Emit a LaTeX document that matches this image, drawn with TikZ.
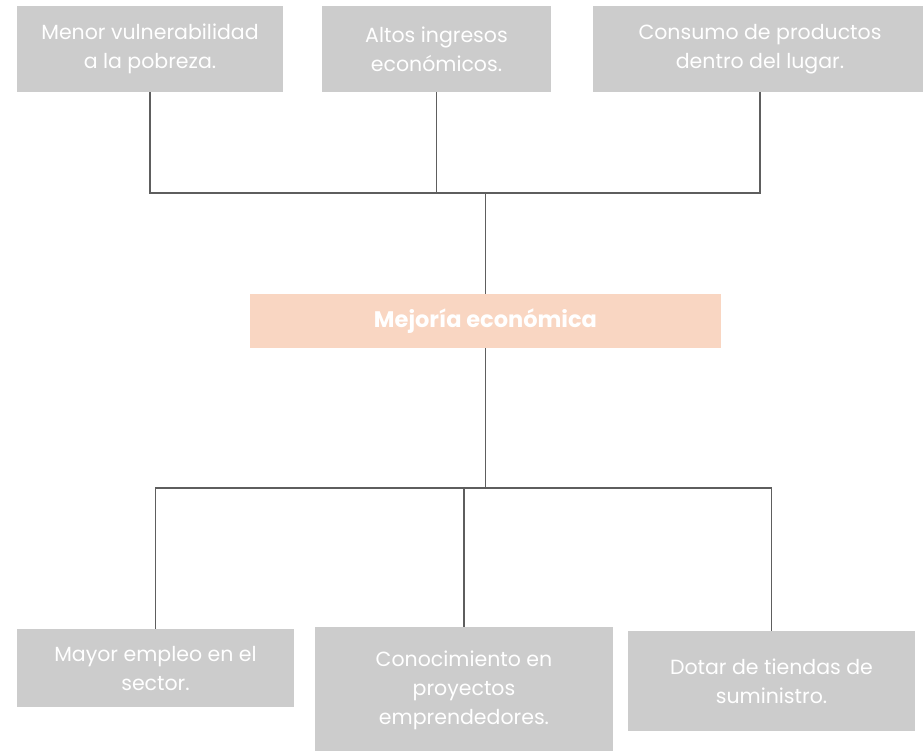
\documentclass[tikz,border=0pt]{standalone}
\usepackage{fontspec}
\setmainfont{Poppins}
\definecolor{boxgray}{HTML}{CCCCCC}
\definecolor{peach}{HTML}{F9D6C2}
\definecolor{linegray}{HTML}{5E5E5E}
\begin{document}
\begin{tikzpicture}[x=1pt,y=-1pt,
  graybox/.style={fill=boxgray,draw=none,inner sep=0pt,text=white,align=center,
    font=\fontsize{20.5}{29}\selectfont},
  mainbox/.style={fill=peach,draw=none,inner sep=0pt,text=white,align=center,
    font=\fontsize{22.5}{28}\selectfont\bfseries},
  conn/.style={draw=linegray,line width=1.9pt}]
\useasboundingbox (0,0) rectangle (923,750);
\node[graybox,minimum width=266pt,minimum height=86pt] (tl) at (150,49) {Menor vulnerabilidad\\a la pobreza.};
\node[graybox,minimum width=229pt,minimum height=86pt] (tm) at (436.5,49) {Altos ingresos\\económicos.};
\node[graybox,minimum width=334pt,minimum height=86pt] (tr) at (760,49) {Consumo de productos\\dentro del lugar.};
\node[mainbox,minimum width=471pt,minimum height=54pt] (mc) at (485.5,321) {Mejoría económica};
\node[graybox,minimum width=277pt,minimum height=78pt] (bl) at (155.5,668) {Mayor empleo en el\\sector.};
\node[graybox,minimum width=298pt,minimum height=126pt] (bm) at (464,690) {Conocimiento en\\proyectos\\emprendedores.};
\node[graybox,minimum width=287pt,minimum height=100pt] (br) at (771.5,681) {Dotar de tiendas de\\suministro.};
\coordinate (jt) at (485.5,193);
\coordinate (jb) at (485.5,488);
\draw[conn] (tl.south) |- (jt) -| (tr.south);
\draw[conn] (tm.south) -- (tm.south |- jt);
\draw[conn] (jt) -- (mc.north);
\draw[conn] (mc.south) -- (jb);
\draw[conn] (bl.north) |- (jb) -| (br.north);
\draw[conn] (bm.north) -- (bm.north |- jb);
\end{tikzpicture}
\end{document}
